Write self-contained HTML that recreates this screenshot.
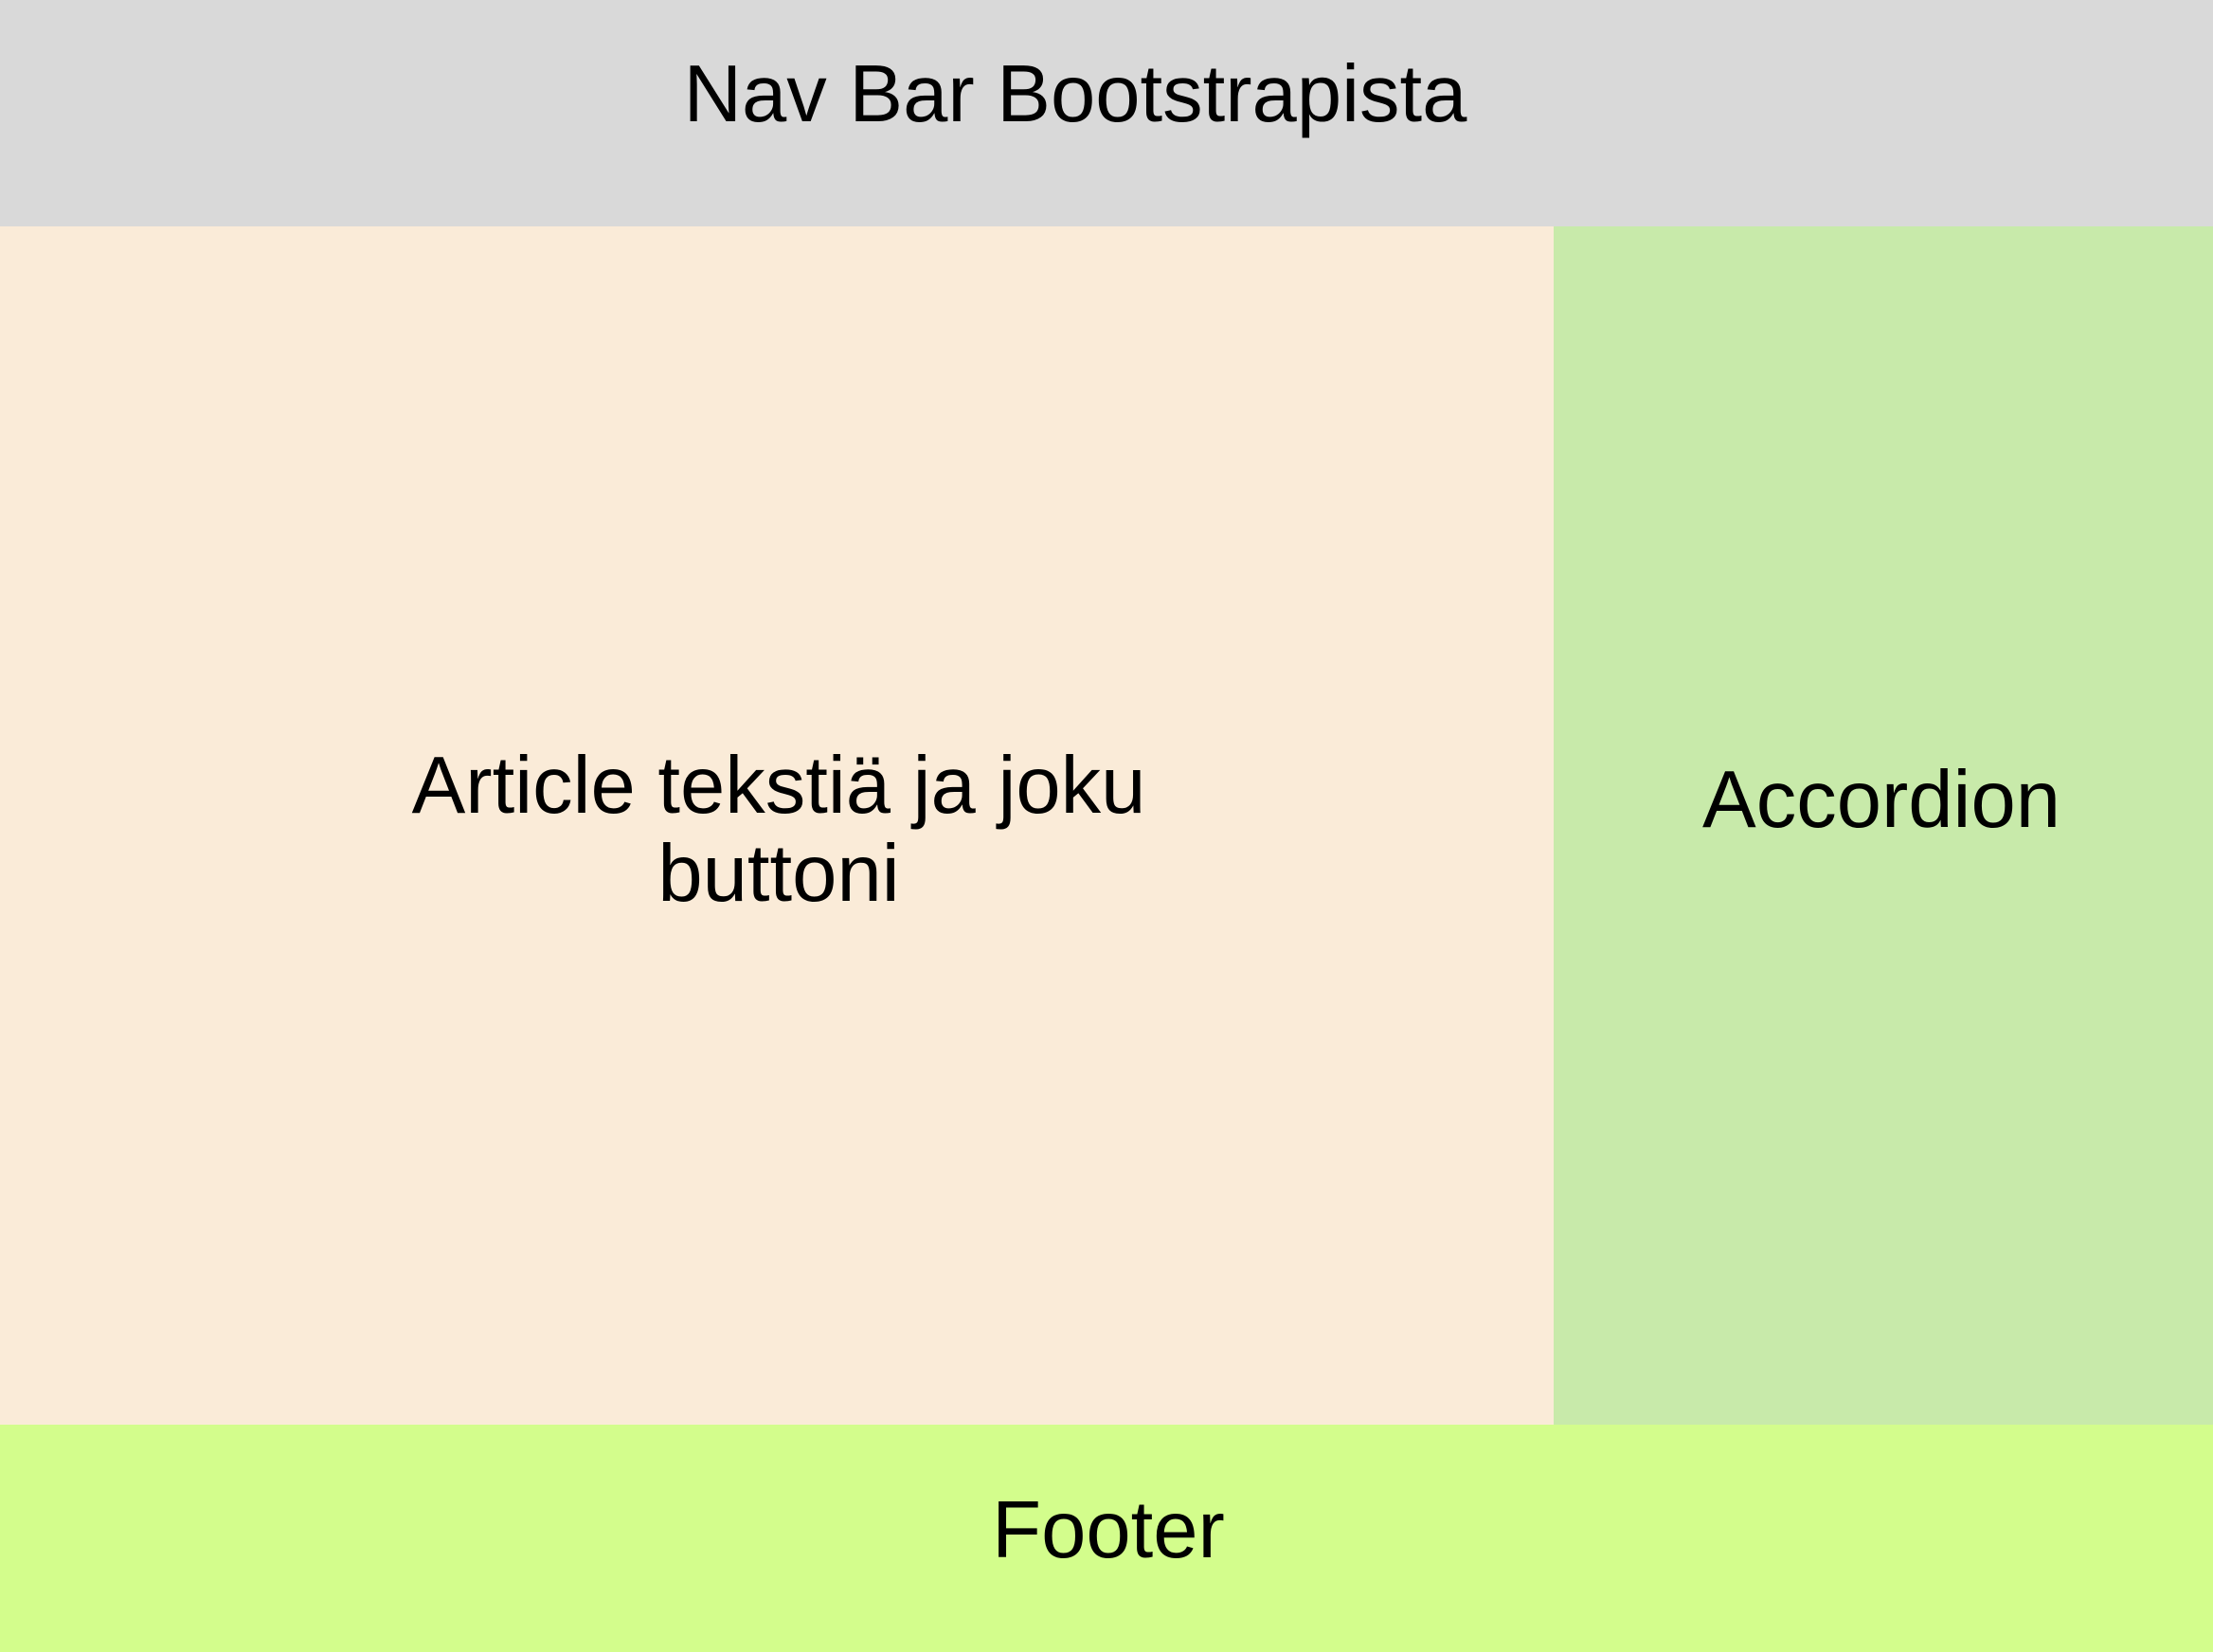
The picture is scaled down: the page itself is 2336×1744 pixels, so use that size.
<!DOCTYPE html>
<html><head><meta charset="utf-8"><style>
html,body{margin:0;padding:0;width:2336px;height:1744px;overflow:hidden;font-family:"Liberation Sans",sans-serif;}
.b{position:absolute}
.t{position:absolute;font-size:85px;line-height:88px;white-space:nowrap;color:#000;transform:translateX(-50%)}
</style></head><body>
<div class="b" style="left:0;top:0;width:2336px;height:239px;background:#d9d9d9"></div>
<div class="b" style="left:0;top:239px;width:1640px;height:1265px;background:#faebd8"></div>
<div class="b" style="left:1640px;top:239px;width:696px;height:1265px;background:#c8eaaa"></div>
<div class="b" style="left:0;top:1504px;width:2336px;height:240px;background:#d3fd8c"></div>
<div class="t" style="left:1135px;top:56px">Nav Bar Bootstrapista</div>
<div class="t" style="left:822px;top:786px">Article tekstiä ja joku</div>
<div class="t" style="left:822px;top:879px">buttoni</div>
<div class="t" style="left:1986px;top:801px">Accordion</div>
<div class="t" style="left:1170px;top:1572px">Footer</div>
</body></html>
